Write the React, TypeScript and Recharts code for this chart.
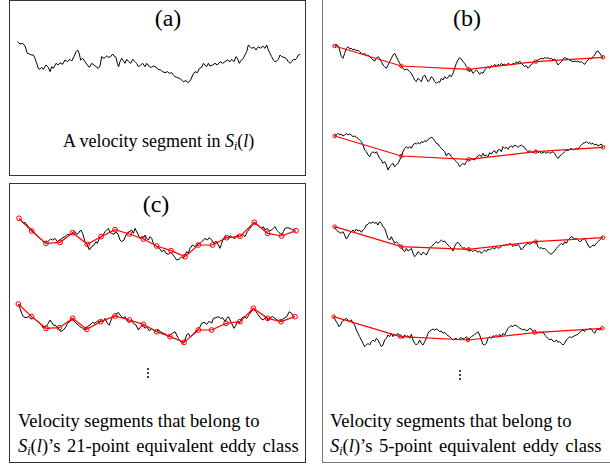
import React from "react";
import { LineChart, Line, XAxis, YAxis } from "recharts";

// readings taken from a 3x zoom of each strip: [t, u], u measured downward
const traceA = [
  [22,35],[30,42],[38,40],[45,48],[52,70],[58,72],[65,75],[70,75],[75,85],[80,100],[85,115],[90,118],[95,112],[100,118],
  [108,105],[115,112],[120,125],[125,110],[130,115],[138,100],[145,105],[150,98],[158,103],[165,90],[172,95],[180,88],
  [185,93],[192,80],[198,65],[203,60],[208,72],[212,90],[218,85],[225,95],[232,105],[238,112],[245,100],[252,105],
  [258,110],[265,115],[270,108],[275,80],[282,85],[290,78],[295,82],[302,80],[308,72],[312,78],[318,82],[322,100],
  [326,110],[330,95],[335,85],[340,92],[345,100],[350,88],[356,95],[362,100],[368,88],[375,95],[380,100],[385,110],
  [392,105],[398,100],[405,110],[410,100],[418,110],[424,112],[430,108],[438,112],[445,118],[452,120],[458,125],
  [465,128],[472,125],[478,130],[485,128],[490,135],[495,140],[500,142],[508,145],[515,150],[520,155],[528,152],
  [535,158],[542,150],[548,135],[555,125],[562,128],[568,115],[575,112],[580,100],[585,105],[590,110],[595,100],
  [600,108],[608,105],[615,100],[622,105],[630,95],[638,100],[645,95],[652,90],[660,95],[665,88],[672,95],[678,80],
  [682,85],[688,100],[692,92],[698,88],[705,75],[710,65],[715,45],[720,50],[725,55],[732,52],[738,60],[745,50],
  [752,55],[758,48],[765,55],[770,45],[775,60],[780,70],[785,80],[790,90],[795,95],[800,93],[805,88],[810,75],
  [815,80],[822,82],[828,85],[835,95],[840,100],[845,95],[850,88],[855,90],[860,85],[865,75],[870,73],
];

const traceC1 = [
  [30,72],[35,80],[40,85],[45,82],[55,95],[65,105],[75,115],[85,125],[95,135],[100,140],[108,142],[115,138],[122,132],
  [128,135],[135,130],[142,140],[150,135],[158,128],[165,125],[172,118],[180,120],[188,112],[195,110],[200,118],
  [205,115],[212,105],[218,115],[225,140],[232,150],[238,165],[245,155],[252,150],[258,140],[262,145],[268,130],
  [275,125],[280,118],[285,110],[290,105],[295,100],[300,112],[305,115],[312,118],[318,110],[325,120],[330,135],
  [335,140],[342,135],[348,120],[352,115],[358,110],[365,105],[370,115],[375,100],[380,110],[385,120],[390,130],
  [395,125],[400,128],[405,120],[410,130],[415,135],[420,125],[425,130],[430,145],[440,155],[448,160],[455,170],
  [462,165],[468,175],[475,178],[482,172],[490,180],[495,188],[500,195],[508,192],[515,185],[520,190],[525,180],
  [530,170],[535,175],[540,160],[548,150],[555,155],[562,148],[570,145],[578,138],[585,130],[592,135],[598,128],
  [605,135],[612,145],[618,138],[625,150],[630,160],[635,145],[640,130],[648,125],[655,130],[660,122],[668,128],
  [675,130],[682,120],[690,125],[698,118],[705,125],[712,110],[720,100],[728,88],[735,82],[742,90],[748,95],
  [755,100],[760,95],[765,105],[772,100],[778,108],[785,105],[790,100],[795,95],[800,105],[805,110],[810,115],
  [815,120],[820,110],[825,100],[832,98],[840,100],[848,105],[855,102],
];
const eddyC1 = [
  [27,70],[65,108],[108,145],[150,142],[188,113],[232,148],[273,125],[315,104],[358,117],[400,132],[440,153],
  [483,167],[525,185],[565,150],[608,150],[650,128],[690,124],[733,82],[773,115],[815,123],[858,107],
];

const traceC2 = [
  [25,57],[30,70],[35,85],[40,95],[48,98],[55,95],[62,100],[70,98],[78,105],[85,110],[95,120],[100,130],[108,125],
  [115,115],[120,105],[125,112],[130,120],[138,122],[145,130],[152,140],[160,135],[168,125],[172,115],[180,110],
  [185,100],[190,105],[198,115],[205,120],[210,125],[218,130],[225,135],[232,125],[240,120],[248,112],[255,115],
  [262,108],[268,110],[275,105],[280,110],[285,100],[292,115],[298,120],[305,100],[312,95],[318,88],[325,82],
  [330,90],[335,95],[340,100],[345,95],[350,105],[358,110],[365,105],[370,115],[378,120],[385,135],[392,125],
  [398,120],[405,130],[410,125],[418,138],[425,130],[430,135],[438,140],[445,135],[452,140],[460,145],[468,148],
  [475,155],[480,150],[488,145],[495,140],[500,150],[505,160],[510,168],[515,172],[520,175],[525,165],[530,150],
  [535,145],[540,155],[548,150],[555,140],[562,135],[568,130],[575,115],[582,112],[590,118],[598,108],[605,115],
  [610,100],[618,98],[625,95],[632,100],[638,98],[645,110],[650,100],[655,95],[660,105],[665,115],[672,130],
  [678,120],[682,110],[688,115],[695,100],[702,95],[710,100],[718,88],[725,78],[730,70],[738,80],[745,90],
  [752,100],[760,105],[768,95],[775,108],[780,98],[788,95],[795,100],[802,105],[808,110],[815,105],[822,100],
  [830,95],[838,80],[845,85],[850,95],
];
const eddyC2 = [
  [25,57],[65,95],[108,130],[148,128],[188,100],[230,133],[272,110],[315,93],[358,105],[400,118],[440,140],
  [480,155],[522,172],[565,135],[605,135],[648,115],[690,110],[730,70],[773,100],[813,110],[855,95],
];

const traceB1 = [
  [50,33],[55,28],[60,32],[65,45],[70,65],[75,70],[80,55],[85,40],[90,35],[95,42],[100,40],[105,45],[110,42],
  [115,48],[120,45],[125,50],[130,55],[135,58],[140,55],[145,62],[150,60],[155,65],[160,70],[165,75],[170,78],
  [175,70],[180,65],[185,70],[190,80],[195,90],[200,95],[205,100],[210,90],[215,80],[220,70],[225,60],[230,55],
  [235,65],[240,75],[245,85],[250,93],[255,100],[260,105],[265,102],[270,105],[275,110],[280,115],[285,125],
  [290,135],[295,140],[300,130],[305,135],[310,140],[315,125],[320,120],[325,130],[330,140],[335,135],[340,125],
  [345,130],[350,140],[355,145],[360,140],[365,142],[370,130],[375,135],[380,125],[385,130],[390,128],[395,120],
  [400,125],[405,115],[410,100],[415,85],[420,75],[425,68],[430,72],[435,80],[440,85],[445,95],[450,100],
  [455,110],[460,105],[465,115],[470,110],[475,105],[480,110],[485,118],[490,112],[495,115],[500,105],[505,100],
  [510,95],[515,100],[520,92],[525,95],[530,88],[535,95],[540,88],[545,92],[550,85],[555,90],[560,88],[565,92],
  [570,85],[575,88],[580,90],[585,85],[590,88],[595,80],[600,85],[605,78],[610,85],[615,90],[620,95],[625,92],
  [630,100],[635,95],[640,88],[645,85],[650,80],[655,78],[660,75],[665,72],[670,70],[675,72],[680,68],[685,70],
  [690,68],[695,72],[700,70],[705,75],[710,72],[715,80],[720,90],[725,85],[730,80],[735,72],[740,68],[745,70],
  [750,72],[755,75],[760,78],[765,80],[770,78],[775,80],[780,78],[785,82],[790,80],[795,85],[800,88],[805,80],
  [810,75],[815,70],[820,72],[825,65],[830,60],[835,50],[840,48],[845,55],[850,62],[855,67],
];
const eddyB1 = [[50,33],[250,93],[452,103],[653,80],[855,67]];

const traceB2 = [
  [50,48],[55,45],[60,40],[65,45],[70,42],[75,48],[80,45],[85,40],[90,45],[95,42],[100,45],[105,50],[110,48],
  [115,52],[120,55],[125,60],[130,65],[135,75],[140,90],[145,95],[150,105],[155,110],[160,100],[165,95],[170,100],
  [175,95],[180,105],[185,115],[190,120],[195,130],[200,125],[205,135],[210,150],[215,140],[220,135],[225,130],
  [230,140],[235,135],[240,130],[245,120],[250,108],[255,95],[260,85],[265,80],[270,85],[275,80],[280,85],
  [285,75],[290,70],[295,72],[300,68],[305,72],[310,65],[315,68],[320,62],[325,65],[330,58],[335,55],[340,52],
  [345,55],[350,62],[355,70],[360,72],[365,80],[370,85],[375,90],[380,95],[385,108],[390,100],[395,102],
  [400,110],[405,115],[410,120],[415,125],[420,130],[425,140],[430,135],[435,130],[440,135],[445,125],[450,118],
  [455,122],[460,115],[465,118],[470,120],[475,112],[480,108],[485,105],[490,110],[495,100],[500,108],[505,105],
  [510,110],[515,98],[520,102],[525,95],[530,92],[535,100],[540,90],[545,88],[550,95],[555,80],[560,85],[565,82],
  [570,88],[575,80],[580,78],[585,82],[590,75],[595,78],[600,82],[605,78],[610,75],[615,80],[620,82],[625,90],
  [630,95],[635,92],[640,95],[645,98],[650,95],[655,92],[660,98],[665,95],[670,100],[675,98],[680,95],[685,100],
  [690,95],[695,100],[700,98],[705,95],[710,100],[715,110],[720,115],[725,108],[730,105],[735,100],[740,95],
  [745,90],[750,92],[755,88],[760,85],[765,90],[770,88],[775,85],[780,88],[785,80],[790,75],[795,70],[800,68],
  [805,65],[810,70],[815,68],[820,72],[825,70],[830,75],[835,72],[840,78],[845,75],[850,72],[855,80],
];
const eddyB2 = [[50,48],[250,108],[452,118],[653,95],[855,82]];

const traceB3 = [
  [50,35],[55,45],[60,50],[65,52],[70,55],[75,50],[80,60],[85,72],[90,65],[95,55],[100,50],[105,45],[110,50],
  [115,42],[120,48],[125,45],[130,52],[135,45],[140,40],[145,30],[150,28],[155,22],[160,25],[165,20],[170,25],
  [175,22],[180,30],[185,20],[190,25],[195,35],[200,40],[205,55],[210,70],[215,75],[220,65],[225,75],[230,85],
  [235,80],[240,85],[245,90],[250,95],[255,105],[260,110],[265,100],[270,108],[275,105],[280,100],[285,115],
  [290,125],[295,120],[300,110],[305,115],[310,120],[315,112],[320,115],[325,120],[330,110],[335,100],[340,95],
  [345,90],[350,85],[355,80],[360,85],[365,80],[370,75],[375,80],[380,78],[385,85],[390,90],[395,95],[400,100],
  [405,108],[410,95],[415,85],[420,82],[425,88],[430,95],[435,100],[440,98],[445,105],[450,100],[455,108],
  [460,105],[465,110],[470,105],[475,108],[480,112],[485,108],[490,115],[495,110],[500,105],[505,110],[510,102],
  [515,105],[520,100],[525,98],[530,102],[535,95],[540,100],[545,98],[550,95],[555,90],[560,92],[565,88],
  [570,90],[575,85],[580,88],[585,95],[590,90],[595,92],[600,88],[605,95],[610,105],[615,100],[620,92],[625,88],
  [630,85],[635,88],[640,85],[645,82],[650,80],[655,82],[660,95],[665,100],[670,98],[675,102],[680,100],
  [685,105],[690,110],[695,115],[700,118],[705,112],[710,108],[715,100],[720,95],[725,90],[730,85],[735,90],
  [740,80],[745,85],[750,75],[755,70],[760,65],[765,68],[770,72],[775,70],[780,75],[785,80],[790,78],[795,72],
  [800,70],[805,80],[810,90],[815,98],[820,95],[825,90],[830,92],[835,85],[840,80],[845,75],[850,70],[855,65],
];
const eddyB3 = [[50,35],[250,95],[452,103],[653,80],[855,68]];

const traceB4 = [
  [47,35],[52,45],[58,55],[63,65],[68,60],[72,50],[78,45],[85,40],[90,45],[95,50],[100,45],[105,55],[110,60],
  [115,75],[120,85],[125,95],[130,105],[135,115],[140,125],[145,120],[150,115],[155,120],[160,110],[165,105],
  [170,110],[175,100],[180,105],[185,115],[190,125],[195,120],[200,105],[205,100],[210,90],[215,95],[220,85],
  [225,95],[230,88],[235,92],[240,85],[245,90],[250,95],[255,100],[260,90],[265,95],[270,92],[275,100],[280,88],
  [285,105],[290,115],[295,120],[300,115],[305,105],[310,115],[315,120],[320,110],[325,100],[330,85],[335,78],
  [340,75],[345,72],[350,75],[355,72],[360,75],[365,80],[370,78],[375,85],[380,82],[385,88],[390,92],[395,95],
  [400,100],[405,105],[410,102],[415,100],[420,105],[425,100],[430,98],[435,102],[440,100],[445,95],[450,105],
  [455,100],[460,95],[465,92],[470,88],[475,85],[480,80],[485,90],[490,105],[495,118],[500,120],[505,115],
  [510,100],[515,95],[520,100],[525,92],[530,95],[535,90],[540,95],[545,88],[550,95],[555,85],[560,90],[565,80],
  [570,70],[575,65],[580,62],[585,65],[590,60],[595,62],[600,65],[605,70],[610,72],[615,75],[620,72],[625,78],
  [630,75],[635,70],[640,72],[645,80],[650,75],[655,80],[660,85],[665,80],[670,85],[675,80],[680,90],[685,95],
  [690,100],[695,105],[700,102],[705,108],[710,110],[715,105],[720,112],[725,110],[730,115],[735,120],[740,115],
  [745,105],[750,100],[755,95],[760,98],[765,95],[770,92],[775,90],[780,88],[785,82],[790,78],[795,75],[800,80],
  [805,72],[810,75],[815,70],[820,72],[825,80],[830,85],[835,75],[840,72],[845,75],[850,70],
];
const eddyB4 = [[47,35],[247,95],[450,105],[650,83],[853,70]];

const serif = "'Liberation Serif', 'Times New Roman', serif";
const ZOOM = 3; // readings were taken at 3x

const rows = (pairs: number[][]) => pairs.map(([t, u]) => ({ t, u }));

function Strip({ left, top, w, h, black, red, dotR }: any) {
  return (
    <div style={{ position: "absolute", left, top }}>
      <LineChart width={w} height={h} margin={{ top: 0, right: 0, bottom: 0, left: 0 }}>
        <XAxis type="number" dataKey="t" domain={[0, w * ZOOM]} allowDataOverflow hide />
        <YAxis type="number" dataKey="u" domain={[0, h * ZOOM]} allowDataOverflow reversed hide />
        <Line data={rows(black)} dataKey="u" stroke="#000" strokeWidth={1} dot={false} isAnimationActive={false} />
        {red && (
          <Line
            data={rows(red)}
            dataKey="u"
            stroke="#ff0000"
            strokeWidth={1.2}
            dot={{ r: dotR, stroke: "#ff0000", strokeWidth: 1, fill: "none" }}
            isAnimationActive={false}
          />
        )}
      </LineChart>
    </div>
  );
}

const Si = () => (
  <span>
    <i>S</i>
    <sub style={{ fontSize: 12, fontStyle: "italic", verticalAlign: "-3px" }}>i</sub>(<i>l</i>)
  </span>
);

function Dots({ left, top }: { left: number; top: number }) {
  return (
    <div style={{ position: "absolute", left, top }}>
      {[0, 4, 8].map((d) => (
        <div key={d} style={{ position: "absolute", left: 0, top: d, width: 2, height: 2, borderRadius: 1, background: "#000" }} />
      ))}
    </div>
  );
}

const label = (text: string, cx: number, top: number) => (
  <div style={{ position: "absolute", left: cx - 30, width: 60, top, textAlign: "center", fontSize: 24, lineHeight: "24px" }}>
    {text}
  </div>
);

const caption = { position: "absolute" as const, top: 409, fontSize: 18.5, lineHeight: "25px", whiteSpace: "nowrap" as const };

export default function App() {
  return (
    <div
      style={{
        position: "absolute", left: 0, top: 0, width: 610, height: 467, overflow: "hidden",
        background: "#fff", fontFamily: serif, color: "#000",
      }}
    >
      <div style={{ position: "absolute", left: 9, top: 0, width: 297, height: 176, border: "1.5px solid #333", boxSizing: "border-box" }} />
      <div style={{ position: "absolute", left: 9, top: 183, width: 297, height: 280, border: "1.5px solid #333", boxSizing: "border-box" }} />
      <div style={{ position: "absolute", left: 322, top: -10, width: 300, height: 473, border: "1.5px solid #777", boxSizing: "border-box" }} />

      {label("(a)", 168, 6)}
      {label("(b)", 467, 6)}
      {label("(c)", 156, 192)}

      <Strip left={10} top={30} w={295} h={60} black={traceA} />
      <Strip left={10} top={195} w={295} h={70} black={traceC1} red={eddyC1} dotR={2.4} />
      <Strip left={10} top={285} w={295} h={70} black={traceC2} red={eddyC2} dotR={2.4} />
      <Strip left={318} top={35} w={290} h={60} black={traceB1} red={eddyB1} dotR={1.8} />
      <Strip left={318} top={120} w={290} h={65} black={traceB2} red={eddyB2} dotR={1.8} />
      <Strip left={318} top={215} w={290} h={60} black={traceB3} red={eddyB3} dotR={1.8} />
      <Strip left={318} top={305} w={290} h={65} black={traceB4} red={eddyB4} dotR={1.8} />

      <div style={{ position: "absolute", left: 63, top: 129, fontSize: 18, lineHeight: "25px", whiteSpace: "nowrap" }}>
        A velocity segment in <Si />
      </div>

      <Dots left={147} top={368} />
      <Dots left={459} top={370} />

      <div style={{ ...caption, left: 18 }}>
        Velocity segments that belong to
        <br />
        <span style={{ wordSpacing: 2 }}>
          <Si />’s 21-point equivalent eddy class
        </span>
      </div>
      <div style={{ ...caption, left: 330 }}>
        Velocity segments that belong to
        <br />
        <span style={{ wordSpacing: 2 }}>
          <Si />’s 5-point equivalent eddy class
        </span>
      </div>
    </div>
  );
}
